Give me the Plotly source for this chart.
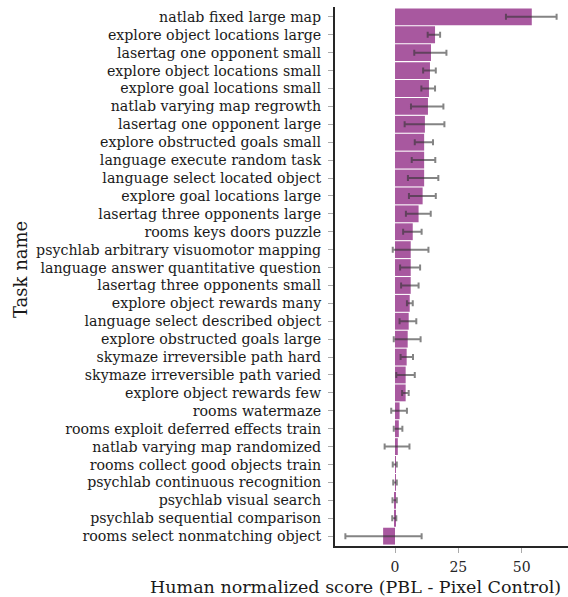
import plotly.graph_objects as go

# Per-task score difference (PBL minus Pixel Control) with 95% interval bounds
tasks = [
    "natlab fixed large map",
    "explore object locations large",
    "lasertag one opponent small",
    "explore object locations small",
    "explore goal locations small",
    "natlab varying map regrowth",
    "lasertag one opponent large",
    "explore obstructed goals small",
    "language execute random task",
    "language select located object",
    "explore goal locations large",
    "lasertag three opponents large",
    "rooms keys doors puzzle",
    "psychlab arbitrary visuomotor mapping",
    "language answer quantitative question",
    "lasertag three opponents small",
    "explore object rewards many",
    "language select described object",
    "explore obstructed goals large",
    "skymaze irreversible path hard",
    "skymaze irreversible path varied",
    "explore object rewards few",
    "rooms watermaze",
    "rooms exploit deferred effects train",
    "natlab varying map randomized",
    "rooms collect good objects train",
    "psychlab continuous recognition",
    "psychlab visual search",
    "psychlab sequential comparison",
    "rooms select nonmatching object",
]
scores = [54.0, 15.8, 14.2, 13.8, 13.4, 13.0, 11.8, 11.5, 11.5, 11.5,
          10.9, 9.3, 7.0, 6.2, 6.2, 6.2, 5.8, 5.4, 5.0, 4.6,
          4.2, 4.2, 1.8, 1.5, 1.1, 0.2, 0.1, -0.1, -0.2, -4.7]
ci_low = [43.8, 12.9, 7.6, 11.1, 10.4, 6.3, 3.8, 7.8, 6.6, 5.1,
          5.5, 4.3, 3.2, -0.9, 2.0, 2.4, 4.7, 1.8, -0.5, 2.2,
          0.5, 2.8, -1.5, -0.5, -4.1, -0.9, -0.7, -1.0, -1.1, -19.6]
ci_high = [63.8, 17.8, 20.3, 16.1, 15.8, 19.1, 19.5, 15.0, 15.9, 17.1,
           16.1, 14.1, 10.5, 13.2, 9.9, 9.3, 7.0, 8.4, 10.1, 7.1,
           7.8, 5.4, 4.7, 2.9, 5.7, 0.7, 0.7, 0.7, 0.5, 10.5]
x_ticks = [0, 25, 50]

err_plus = [h - s for h, s in zip(ci_high, scores)]
err_minus = [s - l for s, l in zip(scores, ci_low)]

FONT = "DejaVu Serif"

fig = go.Figure(
    go.Bar(
        x=scores,
        y=tasks,
        orientation="h",
        width=0.94,
        marker=dict(color="#a8589f", line=dict(width=0)),
        error_x=dict(
            type="data",
            symmetric=False,
            array=err_plus,
            arrayminus=err_minus,
            color="rgba(50,50,50,0.6)",
            thickness=2,
            width=3,
        ),
    )
)

n = len(tasks)
fig.update_layout(
    width=568,
    height=597,
    margin=dict(l=335, r=0, t=7, b=51),
    paper_bgcolor="white",
    plot_bgcolor="white",
    showlegend=False,
    font=dict(family=FONT, size=14, color="#1a1a1a"),
    xaxis=dict(
        range=[-23.7, 68.3],
        tickvals=x_ticks,
        ticks="outside",
        ticklen=5,
        tickcolor="#aaaaaa",
        ticklabelstandoff=2,
        showgrid=False,
        zeroline=False,
        showline=True,
        linecolor="#262626",
        linewidth=2,
        tickfont=dict(family=FONT, size=14, color="#262626"),
    ),
    yaxis=dict(
        type="category",
        range=[n - 0.45, -0.55],
        ticks="outside",
        ticklen=5,
        tickcolor="#aaaaaa",
        ticklabelstandoff=4,
        showgrid=False,
        zeroline=False,
        showline=True,
        linecolor="#262626",
        linewidth=2,
        tickfont=dict(family=FONT, size=14.2, color="#1a1a1a"),
    ),
    annotations=[
        dict(
            text="Human normalized score (PBL - Pixel Control)",
            xref="paper", yref="paper",
            x=(355 - 335) / 233, y=-(587 - 546) / 539,
            xanchor="center", yanchor="middle",
            showarrow=False,
            font=dict(family=FONT, size=17.5, color="#1a1a1a"),
        ),
        dict(
            text="Task name",
            xref="paper", yref="paper",
            x=-(335 - 20) / 233, y=(546 - 270) / 539,
            xanchor="center", yanchor="middle",
            textangle=-90,
            showarrow=False,
            font=dict(family=FONT, size=18, color="#1a1a1a"),
        ),
    ],
)

fig.write_html("out.html")
